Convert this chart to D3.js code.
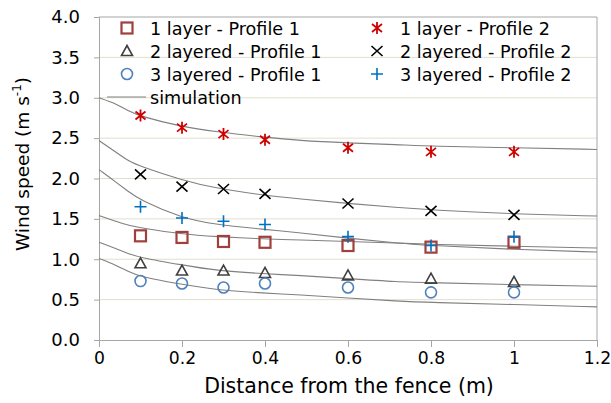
<!DOCTYPE html>
<html lang="en">
<head>
  <meta charset="UTF-8">
  <title>Wind speed behind fence</title>
  <script src="https://d3js.org/d3.v7.min.js"></script>
  <style>
    body { margin: 0; background: #fff; }
    svg text { font-family: "DejaVu Sans", sans-serif; fill: #000; }
  </style>
</head>
<body>
  <svg width="611" height="403"></svg>

  <script>
    // measured points
    const distances = [0.1, 0.2, 0.3, 0.4, 0.6, 0.8, 1.0];
    const layer1P1 = [1.29, 1.27, 1.22, 1.21, 1.17, 1.15, 1.21];
    const layer2P1 = [0.95, 0.86, 0.86, 0.83, 0.80, 0.76, 0.72];
    const layer3P1 = [0.73, 0.70, 0.65, 0.70, 0.65, 0.59, 0.59];
    const layer1P2 = [2.78, 2.63, 2.55, 2.48, 2.38, 2.33, 2.33];
    const layer2P2 = [2.05, 1.90, 1.87, 1.81, 1.69, 1.60, 1.55];
    const layer3P2 = [1.65, 1.51, 1.47, 1.43, 1.28, 1.17, 1.28];

    // simulation curves
    const simX = [0, 0.04, 0.07, 0.1, 0.2, 0.28, 0.4, 0.48, 0.6, 0.72, 0.8, 1.0, 1.2];
    const sim1 = [3.00, 2.93, 2.84, 2.77, 2.64, 2.58, 2.51, 2.47, 2.44, 2.42, 2.40, 2.38, 2.36];
    const sim2 = [2.47, 2.33, 2.22, 2.15, 1.98, 1.88, 1.79, 1.75, 1.69, 1.64, 1.61, 1.56, 1.535];
    const sim3 = [2.11, 1.96, 1.84, 1.73, 1.51, 1.43, 1.37, 1.33, 1.26, 1.20, 1.17, 1.12, 1.09];
    const sim4 = [1.54, 1.47, 1.42, 1.39, 1.31, 1.28, 1.25, 1.24, 1.22, 1.20, 1.185, 1.16, 1.14];
    const sim5 = [1.21, 1.135, 1.07, 1.02, 0.93, 0.86, 0.82, 0.80, 0.76, 0.72, 0.71, 0.685, 0.665];
    const sim6 = [1.01, 0.93, 0.85, 0.78, 0.69, 0.62, 0.58, 0.56, 0.52, 0.48, 0.465, 0.44, 0.41];

    const xTicks = [0, 0.2, 0.4, 0.6, 0.8, 1, 1.2];
    const yTicks = [0, 0.5, 1, 1.5, 2, 2.5, 3, 3.5, 4];

    const svg = d3.select("svg");
    const margin = {top: 17, right: 14, bottom: 63, left: 99};
    const width = 611 - margin.left - margin.right;
    const height = 403 - margin.top - margin.bottom;
    const g = svg.append("g").attr("transform", `translate(${margin.left},${margin.top})`);

    const x = d3.scaleLinear().domain([0, 1.2]).range([0, width]);
    const y = d3.scaleLinear().domain([0, 4]).range([height, 0]);

    // gridlines
    g.append("g")
      .selectAll("line")
      .data(yTicks.filter(d => d > 0 && d < 4))
      .enter().append("line")
      .attr("x1", 0).attr("x2", width)
      .attr("y1", d => y(d)).attr("y2", d => y(d))
      .attr("stroke", "#e3dfcc").attr("stroke-width", 1);

    // frame top / right
    g.append("line").attr("x1", 0).attr("x2", width).attr("y1", 0).attr("y2", 0)
      .attr("stroke", "#a6a6a6");
    g.append("line").attr("x1", width).attr("x2", width).attr("y1", 0).attr("y2", height)
      .attr("stroke", "#a6a6a6");

    const xAxis = g.append("g")
      .attr("transform", `translate(0,${height})`)
      .call(d3.axisBottom(x).tickValues(xTicks).tickSize(7).tickPadding(5).tickFormat(d3.format("")));
    const yAxis = g.append("g")
      .call(d3.axisLeft(y).tickValues(yTicks).tickSize(5).tickPadding(14).tickFormat(d3.format(".1f")));

    [xAxis, yAxis].forEach(a => {
      a.attr("font-family", null);
      a.select(".domain").attr("stroke", "#a6a6a6");
      a.selectAll(".tick line").attr("stroke", "#a6a6a6");
      a.selectAll(".tick text").attr("font-size", 18).attr("fill", "#000");
    });
    xAxis.selectAll(".tick text").attr("font-size", 17.2);

    // simulation lines
    const line = d3.line()
      .x((d, i) => x(simX[i]))
      .y(d => y(d))
      .curve(d3.curveBasis);
    [sim1, sim2, sim3, sim4, sim5, sim6].forEach(s => {
      g.append("path").datum(s)
        .attr("d", line)
        .attr("fill", "none")
        .attr("stroke", "#808080")
        .attr("stroke-width", 1.1);
    });

    function marker(sel, type) {
      if (type === "square") {
        sel.append("rect").attr("x", -5.5).attr("y", -5.5).attr("width", 11).attr("height", 11)
          .attr("fill", "none").attr("stroke", "#a0403c").attr("stroke-width", 2.2);
      } else if (type === "triangle") {
        sel.append("path").attr("d", "M0,-5.5L5.5,4.5L-5.5,4.5Z")
          .attr("fill", "none").attr("stroke", "#404040").attr("stroke-width", 1.6);
      } else if (type === "circle") {
        sel.append("circle").attr("r", 5.5)
          .attr("fill", "none").attr("stroke", "#4f81bd").attr("stroke-width", 1.6);
      } else if (type === "star") {
        sel.append("path").attr("d", "M-5,-4L5,4M-5,4L5,-4M0,-6L0,6")
          .attr("fill", "none").attr("stroke", "#d00000").attr("stroke-width", 1.8);
      } else if (type === "cross") {
        sel.append("path").attr("d", "M-5.5,-5L5.5,5M-5.5,5L5.5,-5")
          .attr("fill", "none").attr("stroke", "#000").attr("stroke-width", 1.6);
      } else if (type === "plus") {
        sel.append("path").attr("d", "M-6,0L6,0M0,-6L0,6")
          .attr("fill", "none").attr("stroke", "#0070c0").attr("stroke-width", 1.6);
      }
    }

    const series = [
      {name: "1 layer - Profile 1", values: layer1P1, type: "square"},
      {name: "2 layered - Profile 1", values: layer2P1, type: "triangle"},
      {name: "3 layered - Profile 1", values: layer3P1, type: "circle"},
      {name: "1 layer - Profile 2", values: layer1P2, type: "star"},
      {name: "2 layered - Profile 2", values: layer2P2, type: "cross"},
      {name: "3 layered - Profile 2", values: layer3P2, type: "plus"}
    ];

    series.forEach(s => {
      g.append("g").selectAll("g")
        .data(s.values)
        .enter().append("g")
        .attr("transform", (d, i) => `translate(${x(distances[i])},${y(d)})`)
        .each(function () { marker(d3.select(this), s.type); });
    });

    // legend
    const legend = svg.append("g");
    series.forEach((s, i) => {
      const col = Math.floor(i / 3), row = i % 3;
      const lx = col === 0 ? 127 : 377;
      const ly = 28 + row * 23;
      const item = legend.append("g").attr("transform", `translate(${lx},${ly})`);
      marker(item, s.type);
      item.append("text").attr("x", 23).attr("y", 6.5)
        .attr("font-size", 17.6).text(s.name);
    });
    legend.append("line").attr("x1", 107).attr("x2", 146).attr("y1", 97).attr("y2", 97)
      .attr("stroke", "#808080").attr("stroke-width", 1.1);
    legend.append("text").attr("x", 150).attr("y", 103.5).attr("font-size", 17.6).text("simulation");

    // axis titles
    svg.append("text")
      .attr("x", 349).attr("y", 393)
      .attr("text-anchor", "middle").attr("font-size", 20.5)
      .text("Distance from the fence (m)");

    const yt = svg.append("text")
      .attr("transform", "translate(29,164) rotate(-90)")
      .attr("text-anchor", "middle").attr("font-size", 18.5);
    yt.append("tspan").text("Wind speed (m s");
    yt.append("tspan").attr("font-size", 12).attr("dy", -8).text("-1");
    yt.append("tspan").attr("dy", 8).text(")");
  </script>
</body>
</html>
